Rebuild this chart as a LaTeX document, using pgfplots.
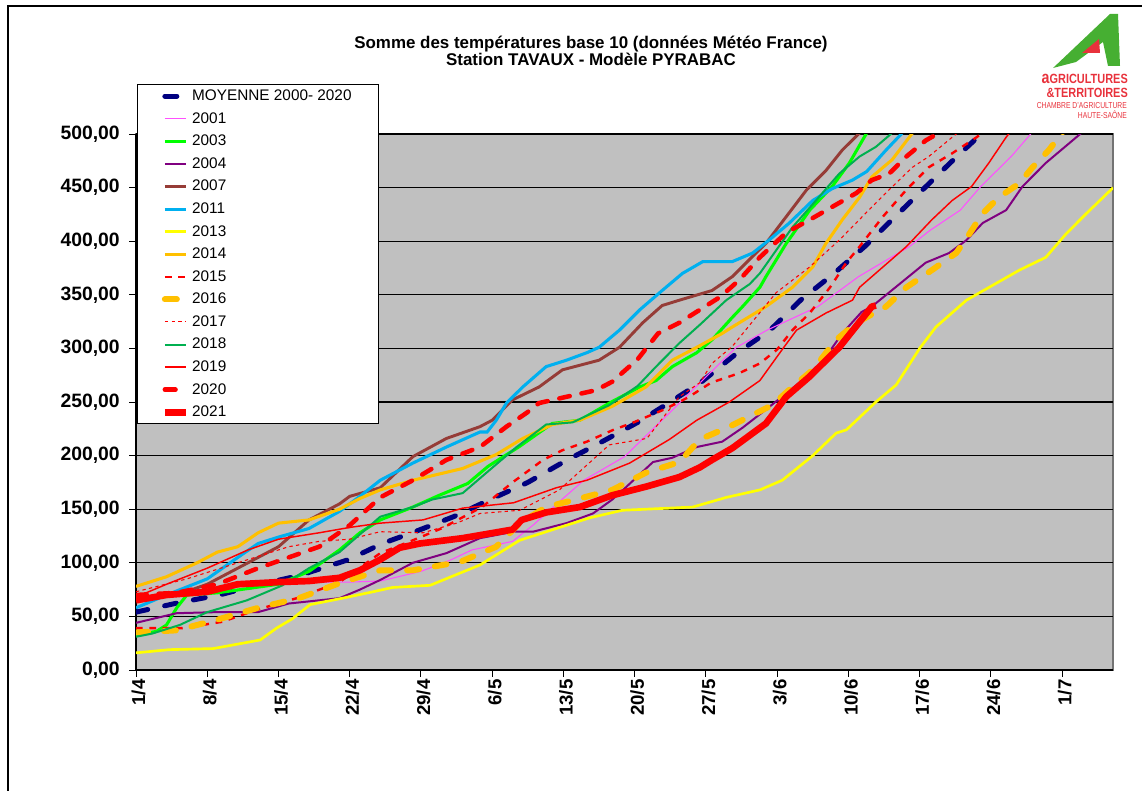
\documentclass[border=0pt]{standalone}
\usepackage{fontspec}
\setmainfont{Liberation Sans}
\usepackage{pgfplots}
\pgfplotsset{compat=1.18}
\definecolor{plotgray}{RGB}{192,192,192}
\definecolor{navy}{RGB}{0,0,128}
\definecolor{c2001}{RGB}{255,80,255}
\definecolor{c2003}{RGB}{0,255,0}
\definecolor{c2004}{RGB}{128,0,128}
\definecolor{c2007}{RGB}{150,60,55}
\definecolor{c2011}{RGB}{0,176,240}
\definecolor{c2013}{RGB}{255,255,0}
\definecolor{c2014}{RGB}{255,192,0}
\definecolor{c2018}{RGB}{0,176,80}
\definecolor{logored}{RGB}{232,50,60}
\definecolor{logogreen}{RGB}{70,175,50}
\begin{document}
\begin{tikzpicture}
\begin{axis}[
  at={(102pt,-502.5pt)}, anchor=south west,
  scale only axis, width=732.75pt, height=402pt,
  xmin=0, xmax=96, ymin=0, ymax=500,
  axis lines*=left,
  axis line style={black, line width=0.8pt},
  axis background/.style={fill=plotgray, draw=black!55, line width=0.8pt},
  xtick={0,7,...,91},
  xticklabels={1/4,8/4,15/4,22/4,29/4,6/5,13/5,20/5,27/5,3/6,10/6,17/6,24/6,1/7},
  ytick={0,50,...,500},
  yticklabels={{0,00},{50,00},{100,00},{150,00},{200,00},{250,00},{300,00},{350,00},{400,00},{450,00},{500,00}},
  tick align=outside,
  major tick length=5pt,
  tick style={black, line width=0.7pt},
  xticklabel style={rotate=90, anchor=east, font=\bfseries\fontsize{14}{16}\selectfont, inner sep=2pt, yshift=-2pt},
  yticklabel style={font=\bfseries\fontsize{14.5}{16}\selectfont, inner sep=2pt, xshift=-5pt},
  ymajorgrids,
  major grid style={black, line width=0.9pt},
  legend cell align=left,
  legend style={at={(0.001,1.0933)}, anchor=north west, draw=black, line width=0.8pt, fill=white,
    font=\fontsize{11.5}{13}\selectfont, inner xsep=18pt, inner ysep=2pt, row sep=3.4pt},
  legend image code/.code={\draw[#1] (0pt,0pt) -- (16pt,0pt);},
]
% MOYENNE
\addplot[navy, line width=3.75pt, line cap=round, dash pattern=on 9pt off 13pt] coordinates {
(0,54) (4.3,63) (8.2,70) (11.8,79) (16,88) (20.9,103) (24.2,118) (27.4,129) (31.2,143) (34.8,159) (38.5,175) (42,194) (45.6,212) (49.3,231) (52.5,250) (55.6,269) (59.1,296) (62.3,317) (65.3,345) (68.6,370) (71.6,395) (74.5,422) (77.3,448) (80,473) (82.7,497) (84,510)};
\addlegendentry{MOYENNE 2000- 2020}
% 2001
\addplot[c2001, line width=0.8pt] coordinates {
(0,66) (4,70) (7,75) (11,79) (14,82) (21,82) (24,83) (28,92) (31,103) (33,112) (37,120) (39,135) (41,152) (44,177) (48,199) (52,236) (55,264) (58,292) (59,301) (62,317) (67,339) (71,367) (76,395) (78,410) (81,429) (83,451) (86,479) (88,501) (89,510)};
\addlegendentry{2001}
% 2003
\addplot[c2003, line width=2.3pt] coordinates {
(0,33) (2,36) (3,42) (4,58) (5,70) (8,72) (11,76) (14,80) (17,92) (20,112) (22,128) (24,140) (27.2,152) (29.8,163) (32.6,174) (34.6,190) (37.6,208) (40.9,230) (43.6,233) (46.7,250) (49.5,264) (51.1,270) (52.7,283) (55.1,296) (56.6,308) (58.6,329) (59.6,339) (61.3,357) (61.9,367) (63.9,398) (66.2,429) (68.4,451) (70.1,473) (71.8,501) (72.3,510)};
\addlegendentry{2003}
% 2004
\addplot[c2004, line width=1.5pt] coordinates {
(0,44) (4,53) (8,54) (12,54) (15,62) (20,67) (22,75) (24,84) (27.2,100) (30.5,109) (33.8,123) (37.1,129) (39,129) (42.3,137) (44.9,146) (46.8,159) (48.2,171) (50.8,194) (52.7,198) (55.1,208) (57.6,213) (59.6,226) (61.9,243) (65.2,268) (67.1,283) (69.4,314) (71.3,334) (72.3,339) (77.6,380) (79.9,389) (81.6,401) (83.2,417) (85.5,429) (87.1,451) (89.4,473) (92.9,501) (93.5,508)};
\addlegendentry{2004}
% 2007
\addplot[c2007, line width=2.2pt] coordinates {
(0,65) (4,70) (7,80) (10,95) (14,115) (17,140) (20,155) (21,162) (24,170) (27.2,199) (30.5,216) (33.8,227) (35,233) (37,252) (39.6,264) (41.9,280) (45.5,289) (47.5,301) (49.8,324) (51.7,340) (53.4,345) (56.6,354) (58.6,367) (60.5,385) (61.9,398) (63.9,423) (65.9,448) (67.8,466) (69.4,485) (71.1,501) (71.8,510)};
\addlegendentry{2007}
% 2011
\addplot[c2011, line width=2.3pt] coordinates {
(0,58) (3,70) (7,85) (10,105) (12,118) (14,124) (17,132) (20,148) (22,162) (24,177) (27.2,193) (30.5,208) (33.8,222) (34.5,222) (35.4,233) (36.4,249) (38,264) (40.3,283) (42.3,289) (44.3,296) (45.5,301) (47.5,317) (49.5,336) (51.7,354) (53.7,370) (55.7,381) (58.6,381) (60.6,389) (62.2,401) (64.2,417) (66.5,438) (68.4,449) (70.4,457) (71.8,465) (73.7,485) (75.3,501) (76,510)};
\addlegendentry{2011}
% 2013
\addplot[c2013, line width=2pt] coordinates {
(0,16) (3.3,19) (7.6,20) (12.2,28) (13.8,39) (15.4,48) (17.1,61) (20.3,67) (23.3,73) (25.2,77) (28.9,79) (33.8,98) (37.7,121) (41.3,132) (44.6,142) (47.8,149) (54.7,152) (58,161) (61.3,168) (63.5,177) (66.5,200) (68.8,221) (69.8,224) (72.7,250) (74.7,266) (77,300) (78.6,320) (81.6,345) (86.8,373) (89.4,385) (91.4,407) (93.4,426) (95.8,448) (96,450)};
\addlegendentry{2013}
% 2014
\addplot[c2014, line width=2.3pt] coordinates {
(0,78) (3,87) (6,100) (8,110) (10,115) (12,128) (14,137) (17,140) (20,150) (22,160) (24,168) (27.2,177) (32.1,188) (35.4,201) (38,216) (40.9,229) (43.6,233) (46.8,246) (50.1,264) (52.7,289) (55.1,301) (57.6,314) (58.6,320) (61.9,339) (64.5,357) (66.5,376) (67.8,398) (69.4,420) (71.1,441) (72.3,460) (74.3,476) (76.3,501) (77,510)};
\addlegendentry{2014}
% 2015
\addplot[red, line width=1.8pt, dash pattern=on 5pt off 5pt] coordinates {
(0,39) (4.5,39) (8.5,45) (11.8,56) (15.8,67) (20,82) (24,109) (27.2,121) (30,132) (32,142) (34,152) (37,175) (40,196) (41.9,205) (44.3,213) (46.9,224) (48.9,231) (51.9,243) (54.2,254) (56.5,268) (59.3,277) (61.3,286) (63,299) (64.5,317) (66.2,333) (68.2,357) (69.8,380) (71.1,395) (73.4,423) (75.7,448) (77.9,469) (80.2,482) (82.6,497) (83,500)};
\addlegendentry{2015}
% 2016
\addplot[c2014, line width=4.5pt, line cap=round, dash pattern=on 9pt off 12pt] coordinates {
(0,35) (4,37) (8,47) (12,58) (16,67) (20,81) (24,93) (27.2,93) (31.9,101) (35.4,115) (37.7,137) (40.3,152) (43.6,160) (46.8,168) (50.1,184) (53.4,194) (55.4,215) (58.3,227) (60.6,238) (62.5,247) (64.5,264) (66.5,280) (68.8,308) (70.8,324) (73.7,339) (75.7,357) (78.2,373) (80.6,389) (81.9,407) (83.2,426) (84.8,441) (86.8,454) (88.1,469) (89.7,485) (91,501) (91.5,508)};
\addlegendentry{2016}
% 2017
\addplot[red, line width=0.8pt, dash pattern=on 2.5pt off 2.5pt] coordinates {
(0,73) (5,85) (10,100) (15,115) (18,120) (21,122) (24,129) (28.2,128) (31.5,137) (33.8,146) (37.7,149) (41.6,168) (46.5,210) (50.2,216) (53.4,255) (55.4,268) (56.6,286) (58.6,302) (62.9,352) (66.2,376) (69.1,401) (72,429) (74,448) (76.3,469) (77.9,479) (80.2,497) (81,503)};
\addlegendentry{2017}
% 2018
\addplot[c2018, line width=1.5pt] coordinates {
(0,31) (1.6,34) (4.3,42) (7,54) (10.9,65) (14.4,79) (17,95) (20,110) (24,143) (27.2,152) (29.1,159) (32.1,165) (34.8,187) (37.4,208) (40.3,229) (42.9,231) (46.5,247) (49.3,265) (51.1,283) (53.4,305) (55.4,322) (58,345) (60.3,360) (61.3,370) (64.5,413) (67,440) (69.1,463) (71.1,479) (72.7,488) (74.3,501) (75,506)};
\addlegendentry{2018}
% 2019
\addplot[red, line width=1.1pt] coordinates {
(0,68) (3,80) (7,95) (11,112) (14,122) (18,128) (21,133) (24,137) (28.2,140) (32.1,151) (37.1,156) (41.3,170) (44.3,177) (48.5,193) (52.4,215) (55.1,233) (58.3,250) (61.3,270) (63.5,299) (64.9,317) (67.8,333) (70.4,345) (71.1,357) (75.7,395) (78.2,420) (80.2,438) (82.1,451) (83.8,473) (85.5,497) (86,503)};
\addlegendentry{2019}
% 2020
\addplot[red, line width=3.4pt, line cap=round, dash pattern=on 8pt off 9pt] coordinates {
(0,70) (4,72) (8,80) (12,95) (15,105) (18,115) (21,135) (24,161) (27.2,177) (30.5,196) (33.8,208) (36.4,227) (38.4,240) (39.6,249) (41.9,254) (45.2,261) (46.8,269) (49.3,290) (51.3,314) (53.4,324) (55.4,336) (57.4,348) (59.3,364) (61.3,385) (63.9,408) (66.2,420) (68.4,432) (70.8,445) (72.3,457) (74,463) (75.7,479) (77.6,494) (78.9,501) (79.5,507)};
\addlegendentry{2020}
% 2021
\addplot[red, line width=5pt, line join=round] coordinates {
(0,65) (3,70) (7,73) (10,80) (14,82) (17,83) (20,86) (22,93) (24,103) (25.9,114) (27.9,118) (32.1,123) (37,131) (37.9,140) (40.3,147) (43.6,152) (46.8,163) (50.1,171) (53.4,180) (55.4,189) (56.6,196) (58.6,207) (61.9,230) (63.9,255) (66.1,273) (69.1,301) (72.3,339) (72.7,340)};
\addlegendentry{2021}
\end{axis}
\begin{scope}[x=0.75pt,y=-0.75pt]
  % outer frame
  \draw[black, line width=1pt] (8,791) -- (8,6) -- (1142,6);
  % title
  \node[font=\bfseries\fontsize{12.7}{13}\selectfont, align=center] at (591,51)
    {Somme des températures base 10 (données Météo France)\\Station TAVAUX - Modèle PYRABAC};
  % logo
  \fill[logogreen] (1053,68) -- (1110,14) -- (1118,14) -- (1120,66) -- (1108,66) -- (1103,42) -- (1076,62) -- cycle;
  \fill[logored] (1082,53) -- (1099,39) -- (1100,53) -- cycle;
  \node[logored, font=\bfseries\fontsize{10}{11}\selectfont, anchor=east, xscale=0.82, inner sep=0pt] at (1128,79)
    {{\fontsize{13}{13}\selectfont a}GRICULTURES};
  \node[logored, font=\bfseries\fontsize{10}{11}\selectfont, anchor=east, xscale=0.82, inner sep=0pt] at (1128,93)
    {\&TERRITOIRES};
  \node[logored, font=\fontsize{6.5}{7}\selectfont, anchor=east, xscale=0.78, inner sep=0pt] at (1127,106)
    {CHAMBRE D'AGRICULTURE};
  \node[logored, font=\fontsize{6.5}{7}\selectfont, anchor=east, xscale=0.78, inner sep=0pt] at (1127,115)
    {HAUTE-SAÔNE};
  \pgfresetboundingbox
  \path[use as bounding box] (0,0) rectangle (1142,791);
\end{scope}
\end{tikzpicture}
\end{document}
